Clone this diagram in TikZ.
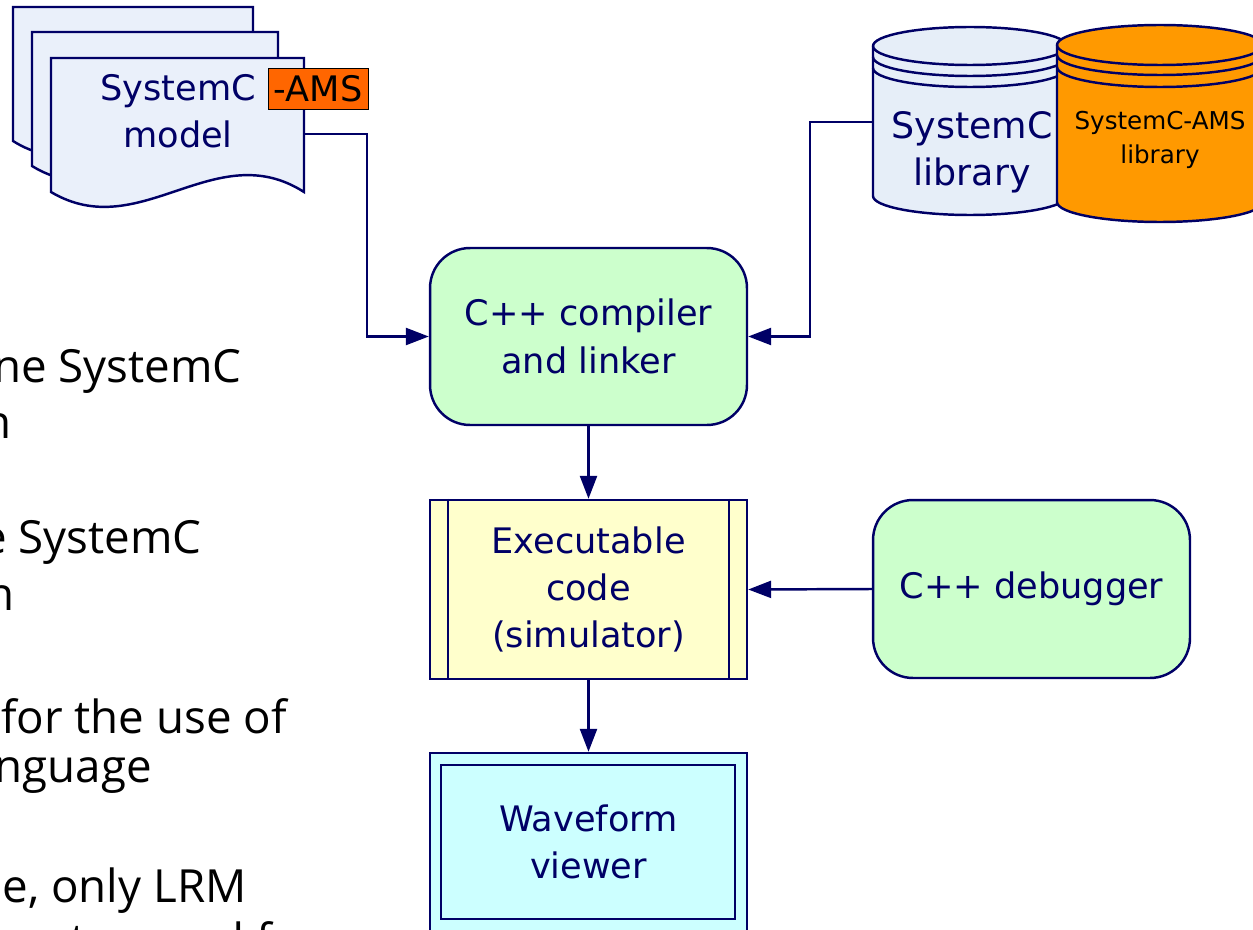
\documentclass[tikz,border=0pt]{standalone}
\usepackage{fontspec}
\setmainfont{DejaVu Sans}
\newfontfamily\slidefont{Open Sans}
\usetikzlibrary{arrows.meta}

\definecolor{navy}{RGB}{0,0,102}
\definecolor{pagefill}{RGB}{234,240,250}
\definecolor{libfill}{RGB}{230,238,248}
\definecolor{procgreen}{RGB}{204,255,204}
\definecolor{exeyellow}{RGB}{255,255,204}
\definecolor{viewcyan}{RGB}{204,255,255}
\definecolor{amsorange}{RGB}{255,153,0}
\definecolor{amstag}{RGB}{255,102,0}

\tikzset{
  diag/.style={text=navy, font=\fontsize{20}{27}\selectfont, align=center},
  proc/.style={diag, draw=navy, line width=1.4pt, fill=procgreen, rounded corners=0.8cm,
    minimum width=6.34cm, minimum height=3.54cm},
  exebox/.style={diag, draw=navy, line width=1.4pt, fill=exeyellow,
    minimum width=6.34cm, minimum height=3.58cm},
  viewbox/.style={diag, draw=navy, line width=1.4pt, fill=viewcyan,
    minimum width=6.34cm, minimum height=3.56cm},
  page/.style={draw=navy, fill=pagefill, line width=1.4pt},
  drum/.style={draw=navy, line width=1.4pt},
  conn/.style={navy, line width=1.4pt, -{Triangle[length=0.46cm,width=0.34cm]}},
  slide/.style={font=\slidefont\fontsize{26}{30}\selectfont, anchor=base east, inner sep=0pt},
}

\begin{document}
\begin{tikzpicture}[x=0.02cm, y=-0.02cm]
  \useasboundingbox (0,0) rectangle (1253,929);
  \clip (0,0) rectangle (1253,929);

  \node[slide] (LineA) at (242,382) {ne SystemC};
  \node[slide] (LineB) at (12,438) {n};
  \node[slide] (LineC) at (202,553) {e SystemC};
  \node[slide] (LineD) at (15,610) {n};
  \node[slide] (LineE) at (287,733) {for the use of};
  \node[slide] (LineF) at (152,782) {nguage};
  \node[slide] (LineG) at (247,902) {e, only LRM};
  \node[slide, anchor=base west] (LineH) at (-12,956) {nent reused f};

  % stack of model files
  \filldraw[page] (13,7) -- (253,7) -- (253,141) .. controls (169,84) and (97,194) .. (13,141) -- cycle;
  \filldraw[page] (32,32) -- (278,32) -- (278,166) .. controls (191,109) and (118,219) .. (32,166) -- cycle;
  \filldraw[page] (51,58) -- (304,58) -- (304,192) .. controls (215,135) and (140,245) .. (51,192) -- cycle;
  \node[diag] (Model) at (178,111) {SystemC\\model};
  \node[draw=black, line width=0.5pt, fill=amstag, text=black, font=\fontsize{20}{24}\selectfont,
    minimum width=2cm, minimum height=0.82cm, inner sep=0pt] (AMSTag) at (318,88.5) {-AMS};

  % libraries
  \filldraw[drum, fill=libfill] (873,46) -- (873,196)
    arc[start angle=180, end angle=360, x radius=1.94cm, y radius=0.38cm] -- (1067,46)
    arc[start angle=0, end angle=180, x radius=1.94cm, y radius=0.38cm] -- cycle;
  \draw[drum] (873,46) arc[start angle=180, end angle=360, x radius=1.94cm, y radius=0.38cm];
  \draw[drum] (873,57) arc[start angle=180, end angle=360, x radius=1.94cm, y radius=0.38cm];
  \draw[drum] (873,68) arc[start angle=180, end angle=360, x radius=1.94cm, y radius=0.38cm];
  \node[diag, font=\fontsize{20.7}{26.7}\selectfont] (SCLib) at (972,152) {SystemC\\library};

  \filldraw[drum, fill=amsorange] (1057,45) -- (1057,202)
    arc[start angle=180, end angle=360, x radius=2.06cm, y radius=0.4cm] -- (1263,45)
    arc[start angle=0, end angle=180, x radius=2.06cm, y radius=0.4cm] -- cycle;
  \draw[drum] (1057,45) arc[start angle=180, end angle=360, x radius=2.06cm, y radius=0.4cm];
  \draw[drum] (1057,55) arc[start angle=180, end angle=360, x radius=2.06cm, y radius=0.4cm];
  \draw[drum] (1057,67) arc[start angle=180, end angle=360, x radius=2.06cm, y radius=0.4cm];
  \node[diag, text=black, font=\fontsize{14}{19.3}\selectfont] (AMSLib) at (1160,140) {SystemC-AMS\\library};

  \node[proc] (Compiler) at (588.5,336.5) {C++ compiler\\and linker};
  \node[exebox] (Executable) at (588.5,589.5) {Executable\\code\\(simulator)};
  \draw[navy, line width=1.4pt] ([xshift=0.38cm]Executable.north west) -- ([xshift=0.38cm]Executable.south west);
  \draw[navy, line width=1.4pt] ([xshift=-0.38cm]Executable.north east) -- ([xshift=-0.38cm]Executable.south east);
  \node[proc, minimum height=3.56cm] (Debugger) at (1031.5,589) {C++ debugger};
  \node[viewbox] (Viewer) at (588.5,842) {Waveform\\viewer};
  \draw[navy, line width=1.4pt] ([xshift=0.24cm,yshift=-0.26cm]Viewer.north west) rectangle ([xshift=-0.26cm,yshift=0.26cm]Viewer.south east);

  \coordinate (ModelOut) at (304,134);
  \coordinate (SCLibOut) at (873,122);
  \draw[conn] (ModelOut) -- ++(63,0) |- (Compiler.west);
  \draw[conn] (SCLibOut) -- ++(-63,0) |- (Compiler.east);
  \draw[conn] (Compiler) -- (Executable);
  \draw[conn] (Debugger.west) -- (Executable.east);
  \draw[conn] (Executable) -- (Viewer);
\end{tikzpicture}
\end{document}
